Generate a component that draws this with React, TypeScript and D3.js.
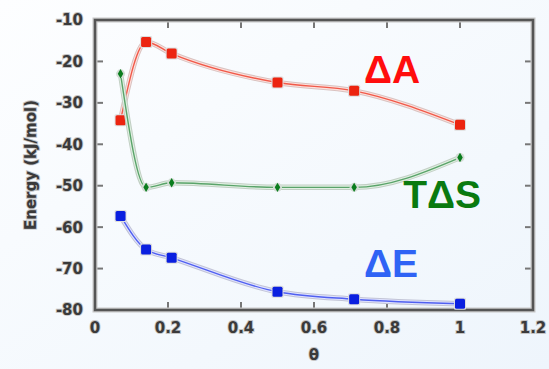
import React, { useEffect, useRef } from 'react';
import * as d3 from 'd3';

// theta values shared by all three series
const theta = [0.07, 0.14, 0.21, 0.5, 0.71, 1.0];
const deltaA = [-34.2, -15.3, -18.1, -25.1, -27.1, -35.3];
const tDeltaS = [-23.0, -50.4, -49.3, -50.4, -50.4, -43.2];
const deltaE = [-57.3, -65.4, -67.4, -75.6, -77.4, -78.5];

const xTicks = [0, 0.2, 0.4, 0.6, 0.8, 1, 1.2];
const yTicks = [-10, -20, -30, -40, -50, -60, -70, -80];

const series = [
  { name: 'ΔA', values: deltaA, core: '#f05a4a', halo: '#fde0dc', edge: '#d9c2c0', marker: '#ec2410', shape: 'square', label: { x: 0.814, y: -25.2, color: '#ff0d0d' } },
  { name: 'TΔS', values: tDeltaS, core: '#5aa36a', halo: '#e0f0e2', edge: '#c2cfc4', marker: '#0a7d1e', shape: 'diamond', label: { x: 0.951, y: -55.4, color: '#0a7a10' } },
  { name: 'ΔE', values: deltaE, core: '#5060f0', halo: '#dfe2ff', edge: '#c2c4d6', marker: '#0a1fe0', shape: 'square', label: { x: 0.811, y: -72.0, color: '#2f63f5' } },
];

const W = 549;
const H = 369;
const margin = { left: 95, top: 20, right: 16, bottom: 59 };

export default function App() {
  const svgRef = useRef<SVGSVGElement>(null);

  useEffect(() => {
    if (!svgRef.current) return;
    const svg = d3.select(svgRef.current);
    svg.selectAll('*').remove();

    const x = d3.scaleLinear().domain([0, 1.2]).range([margin.left, W - margin.right]);
    const y = d3.scaleLinear().domain([-80, -10]).range([H - margin.bottom, margin.top]);

    // background gradient
    const defs = svg.append('defs');
    const grad = defs.append('linearGradient').attr('id', 'bg')
      .attr('x1', '0').attr('y1', '0').attr('x2', '1').attr('y2', '1');
    grad.append('stop').attr('offset', '0%').attr('stop-color', '#fdfeff');
    grad.append('stop').attr('offset', '100%').attr('stop-color', '#eef5fc');
    svg.append('rect').attr('width', W).attr('height', H).attr('fill', 'url(#bg)');

    const textStyle = (sel: any) => sel
      .style('font-family', '"DejaVu Sans", Verdana, sans-serif')
      .style('font-weight', 'bold')
      .attr('fill', '#3a3a3a')
      .attr('stroke', '#c4c4c4')
      .attr('stroke-width', 1.8)
      .attr('paint-order', 'stroke');

    // ticks (inward, mirrored)
    const tickG = svg.append('g').attr('stroke', '#777').attr('stroke-width', 2);
    const innerX = xTicks.slice(1, -1);
    const innerY = yTicks.slice(1, -1);
    const tl = 8;
    innerX.forEach(t => {
      tickG.append('line').attr('x1', x(t)).attr('x2', x(t)).attr('y1', y(-80)).attr('y2', y(-80) - tl);
      tickG.append('line').attr('x1', x(t)).attr('x2', x(t)).attr('y1', y(-10)).attr('y2', y(-10) + tl);
    });
    innerY.forEach(t => {
      tickG.append('line').attr('x1', x(0)).attr('x2', x(0) + tl).attr('y1', y(t)).attr('y2', y(t));
      tickG.append('line').attr('x1', x(1.2)).attr('x2', x(1.2) - tl).attr('y1', y(t)).attr('y2', y(t));
    });

    // frame
    svg.append('rect')
      .attr('x', x(0)).attr('y', y(-10))
      .attr('width', x(1.2) - x(0)).attr('height', y(-80) - y(-10))
      .attr('fill', 'none').attr('stroke', '#c8c8c8').attr('stroke-width', 5);
    svg.append('rect')
      .attr('x', x(0)).attr('y', y(-10))
      .attr('width', x(1.2) - x(0)).attr('height', y(-80) - y(-10))
      .attr('fill', 'none').attr('stroke', '#555').attr('stroke-width', 2.5);

    // tick labels
    svg.append('g').selectAll('text').data(yTicks).enter().append('text')
      .call(textStyle)
      .attr('x', x(0) - 12).attr('y', d => y(d)).attr('dy', '0.36em')
      .attr('text-anchor', 'end').style('font-size', '15px')
      .text(d => String(d));
    svg.append('g').selectAll('text').data(xTicks).enter().append('text')
      .call(textStyle)
      .attr('x', d => x(d)).attr('y', y(-80) + 23)
      .attr('text-anchor', 'middle').style('font-size', '15px')
      .text(d => String(d));

    // axis titles
    svg.append('text').call(textStyle)
      .attr('transform', `translate(36,${(y(-10) + y(-80)) / 2}) rotate(-90)`)
      .attr('text-anchor', 'middle').style('font-size', '15px')
      .text('Energy (kJ/mol)');
    svg.append('text').call(textStyle)
      .attr('x', (x(0) + x(1.2)) / 2).attr('y', y(-80) + 50)
      .attr('text-anchor', 'middle').style('font-size', '15px')
      .text('θ');

    const line = d3.line<number>()
      .x((_, i) => x(theta[i]))
      .y(d => y(d))
      .curve(d3.curveMonotoneX);

    series.forEach(s => {
      const g = svg.append('g');
      g.append('path').attr('d', line(s.values)).attr('fill', 'none').attr('stroke', s.edge).attr('stroke-width', 5.5);
      g.append('path').attr('d', line(s.values)).attr('fill', 'none').attr('stroke', s.halo).attr('stroke-width', 3.5);
      g.append('path').attr('d', line(s.values)).attr('fill', 'none').attr('stroke', s.core).attr('stroke-width', 1.4);

      s.values.forEach((v, i) => {
        const cx = x(theta[i]);
        const cy = y(v);
        if (s.shape === 'square') {
          g.append('rect').attr('x', cx - 6).attr('y', cy - 6).attr('width', 12).attr('height', 12)
            .attr('rx', 1.5).attr('fill', '#ddd');
          g.append('rect').attr('x', cx - 5).attr('y', cy - 5).attr('width', 10).attr('height', 10)
            .attr('rx', 1.5).attr('fill', s.marker);
        } else {
          g.append('circle').attr('cx', cx).attr('cy', cy).attr('r', 4.5).attr('fill', '#d4ddd6');
          g.append('path')
            .attr('d', d3.symbol(d3.symbolDiamond, 26)())
            .attr('transform', `translate(${cx},${cy})`)
            .attr('fill', s.marker);
        }
      });

      svg.append('text')
        .attr('x', x(s.label.x)).attr('y', y(s.label.y))
        .attr('text-anchor', 'middle')
        .style('font-family', '"Liberation Sans", Arial, sans-serif')
        .style('font-weight', 'bold')
        .style('font-size', '39px')
        .attr('fill', s.label.color)
        .text(s.name);
    });
  }, []);

  return (
    <div style={{ position: 'fixed', left: 0, top: 0 }}>
      <svg ref={svgRef} width={W} height={H} style={{ display: 'block' }} />
    </div>
  );
}
